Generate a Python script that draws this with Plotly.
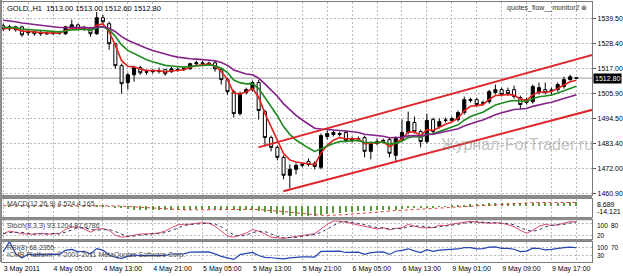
import plotly.graph_objects as go

# ---------------- data ----------------
bar_open = [1536.4,1535.0,1535.9,1535.9,1533.2,1533.7,1532.8,1533.2,1532.8,1533.2,
            1532.8,1535.5,1536.8,1535.0,1535.5,1532.8,1540.0,1537.3,1528.3,1518.4,
            1510.8,1514.3,1517.5,1515.7,1515.7,1516.1,1516.6,1515.7,1516.6,1516.6,
            1517.0,1519.3,1519.7,1519.3,1519.7,1516.6,1512.1,1506.7,1496.8,1506.3,
            1507.6,1510.8,1497.7,1486.0,1481.6,1477.1,1469.0,1471.7,1473.5,1475.3,
            1474.4,1472.6,1486.5,1487.4,1487.4,1488.3,1484.7,1485.6,1486.0,1479.8,
            1483.4,1484.2,1485.1,1478.0,1485.1,1488.3,1492.8,1488.7,1484.2,1494.1,
            1491.0,1493.7,1493.7,1494.1,1497.3,1502.7,1503.1,1501.8,1502.2,1506.3,
            1507.6,1507.2,1507.6,1504.0,1503.1,1502.2,1506.3,1507.6,1507.2,1507.6,
            1509.0,1512.1,1513.0]
bar_high = [1537.3,1536.8,1536.4,1536.4,1534.6,1534.1,1534.1,1533.7,1533.7,1534.1,
            1536.4,1539.1,1537.3,1536.4,1535.9,1542.6,1541.3,1538.2,1528.7,1519.3,
            1515.2,1518.4,1518.4,1516.6,1517.0,1517.5,1517.0,1517.9,1517.5,1517.9,
            1519.7,1520.6,1520.6,1520.2,1520.6,1517.5,1513.0,1507.6,1506.7,1508.5,
            1511.7,1512.1,1498.6,1486.9,1482.5,1478.0,1473.9,1474.4,1474.8,1476.6,
            1475.3,1487.8,1489.2,1489.2,1488.7,1489.2,1486.5,1486.5,1486.9,1484.2,
            1485.6,1485.6,1486.0,1486.5,1494.1,1497.7,1495.5,1489.6,1496.8,1495.0,
            1494.6,1495.0,1495.5,1498.2,1504.5,1504.0,1504.0,1502.7,1507.6,1509.9,
            1508.5,1508.5,1509.4,1504.9,1504.0,1509.9,1510.8,1510.8,1508.5,1510.8,
            1513.4,1514.3,1513.0]
bar_low = [1534.1,1534.1,1533.7,1531.4,1531.9,1531.9,1531.9,1532.3,1532.3,1532.3,
           1532.3,1535.0,1534.6,1534.1,1531.4,1532.3,1537.3,1525.6,1517.0,1505.8,
           1507.6,1511.2,1514.3,1514.3,1514.8,1514.8,1513.9,1515.2,1515.7,1516.1,
           1516.6,1518.4,1518.4,1518.4,1515.7,1509.9,1505.4,1495.0,1495.9,1505.4,
           1506.7,1494.1,1482.0,1479.8,1475.7,1467.2,1463.1,1469.4,1472.6,1473.0,
           1471.7,1471.7,1485.1,1486.5,1486.5,1483.8,1483.8,1484.2,1477.1,1476.2,
           1482.5,1483.4,1477.1,1475.3,1484.2,1487.4,1487.8,1481.6,1483.3,1487.4,
           1490.1,1492.8,1493.2,1493.2,1496.4,1501.8,1500.0,1500.4,1501.3,1505.4,
           1504.5,1504.9,1503.6,1498.6,1500.9,1501.3,1505.4,1505.4,1504.9,1506.7,
           1508.1,1511.7,1512.6]
bar_close = [1535.0,1535.9,1534.6,1532.3,1533.7,1532.8,1533.2,1532.8,1533.2,1533.0,
             1535.9,1536.8,1535.0,1535.5,1532.8,1540.0,1538.2,1528.3,1518.4,1510.3,
             1514.3,1517.5,1515.2,1515.5,1516.1,1515.9,1514.8,1517.0,1516.4,1517.0,
             1519.3,1519.7,1519.3,1519.5,1517.0,1512.1,1506.7,1496.8,1505.4,1507.6,
             1510.8,1498.2,1486.0,1481.6,1477.1,1469.0,1471.7,1473.5,1473.9,1473.9,
             1473.0,1486.9,1487.8,1488.3,1487.8,1484.7,1485.6,1485.4,1479.8,1483.4,
             1484.2,1484.7,1478.9,1485.6,1488.3,1493.2,1488.7,1484.2,1493.7,1488.7,
             1493.2,1493.9,1494.6,1497.3,1503.1,1503.1,1500.9,1501.5,1506.7,1507.6,
             1505.4,1505.8,1504.5,1500.9,1501.8,1509.0,1508.5,1506.3,1507.4,1509.9,
             1512.1,1513.4,1512.8]

label_bars = [0, 8, 16, 24, 32, 40, 48, 56, 64, 72, 80, 88]
label_text = ["3 May 2011", "4 May 05:00", "4 May 13:00", "4 May 21:00",
              "5 May 05:00", "5 May 13:00", "5 May 21:00", "6 May 05:00",
              "6 May 13:00", "9 May 01:00", "9 May 09:00", "9 May 17:00"]

price_ticks = [1460.90, 1472.00, 1483.40, 1494.50, 1505.90, 1517.00, 1528.40, 1539.50]

ma_periods = [4, 10, 20]
ma_start = [1535.0, 1535.9, 1539.3]
ma_colors = ["#e3201b", "#1f8a1f", "#84218a"]

chan_up_x = [40.96, 96.0]
chan_up_y = [1481.6, 1524.4]
chan_lo_x = [44.96, 96.0]
chan_lo_y = [1461.8, 1499.6]

macd_range = [-14.121, 8.689]

# indicator readouts printed on the chart
header_text = "GOLD.,H1  1513.00 1513.00 1512.60 1512.80"
macd_text = "MACD(12,26,9) 4.524 4.165"
stoch_text = "Stoch(8,3,3) 93.1204 87.6786"
rsi_text = "RSI(8) 68.2355"
platform_text = "ICMB Platform, \u00a9 2001-2011 MetaQuotes Software Corp."
window_text = "quotes_flow__monitor2 \u2297"
watermark = "Журнал-ForTrader.ru"

# ---------------- indicator computation ----------------
idx = list(range(len(bar_close)))


def ema(vals, period, start):
    a = 2.0 / (period + 1)
    out, e = [], start
    for v in vals:
        e = e + a * (v - e)
        out.append(e)
    return out


def sma(vals, n):
    out = []
    for i in range(len(vals)):
        w = vals[max(0, i - n + 1):i + 1]
        out.append(sum(w) / len(w))
    return out


mas = [ema(bar_close, p, s) for p, s in zip(ma_periods, ma_start)]

e12 = ema(bar_close, 12, bar_close[0])
e26 = ema(bar_close, 26, bar_close[0])
macd = [a - b for a, b in zip(e12, e26)]
macd_sig = sma(macd, 9)

num, den = [], []
for i in range(len(bar_close)):
    ll = min(bar_low[max(0, i - 7):i + 1])
    hh = max(bar_high[max(0, i - 7):i + 1])
    num.append(bar_close[i] - ll)
    den.append(hh - ll)
stoch_k = []
for i in range(len(bar_close)):
    n = sum(num[max(0, i - 2):i + 1])
    d = sum(den[max(0, i - 2):i + 1])
    stoch_k.append(100 * n / d if d else 50)
stoch_d = sma(stoch_k, 3)

rsi = [50.0]
ag = al = None
gains, losses = [], []
for i in range(1, len(bar_close)):
    ch = bar_close[i] - bar_close[i - 1]
    g, l = max(ch, 0), max(-ch, 0)
    if i <= 8:
        gains.append(g); losses.append(l)
        ag = sum(gains) / len(gains); al = sum(losses) / len(losses)
    else:
        ag = (ag * 7 + g) / 8; al = (al * 7 + l) / 8
    rsi.append(100.0 if al == 0 else 100 - 100 / (1 + ag / al))

# ---------------- figure ----------------
W, H = 623, 276
FONT = "Liberation Sans, Arial, sans-serif"


def py(p):  # pixel row -> paper y
    return (H - p) / H


def px(p):
    return p / W


xdom = [px(2), px(594)]
xr = [-0.2, 94.52]
dom_main = [py(196), py(2)]
dom_macd = [py(218), py(199.5)]
dom_sto = [py(240), py(221)]
dom_rsi = [py(263), py(242.5)]

fig = go.Figure()
fig.add_trace(go.Candlestick(
    x=idx, open=bar_open, high=bar_high, low=bar_low, close=bar_close,
    increasing=dict(line=dict(color="black", width=1), fillcolor="black"),
    decreasing=dict(line=dict(color="black", width=1), fillcolor="white"),
    whiskerwidth=0, showlegend=False, hoverinfo="skip", xaxis="x", yaxis="y"))
for m, c in zip(mas, ma_colors):
    fig.add_trace(go.Scatter(x=idx, y=m, mode="lines", line=dict(color=c, width=1.6),
                             showlegend=False, hoverinfo="skip", xaxis="x", yaxis="y"))
for cx, cy in ((chan_up_x, chan_up_y), (chan_lo_x, chan_lo_y)):
    fig.add_trace(go.Scatter(x=cx, y=cy, mode="lines", line=dict(color="#e0262a", width=2),
                             showlegend=False, hoverinfo="skip", xaxis="x", yaxis="y"))

fig.add_trace(go.Bar(x=idx, y=macd, width=0.2, marker=dict(color="#5e9a3c", line=dict(width=0)),
                     showlegend=False, hoverinfo="skip", xaxis="x2", yaxis="y2"))
fig.add_trace(go.Scatter(x=idx, y=macd_sig, mode="lines", line=dict(color="#d8403a", width=1, dash="dot"),
                         showlegend=False, hoverinfo="skip", xaxis="x2", yaxis="y2"))

fig.add_trace(go.Scatter(x=idx, y=stoch_k, mode="lines", line=dict(color="#d9486a", width=1),
                         showlegend=False, hoverinfo="skip", xaxis="x3", yaxis="y3"))
fig.add_trace(go.Scatter(x=idx, y=stoch_d, mode="lines", line=dict(color="#3a3a6a", width=1, dash="dot"),
                         showlegend=False, hoverinfo="skip", xaxis="x3", yaxis="y3"))

fig.add_trace(go.Scatter(x=idx, y=rsi, mode="lines", line=dict(color="#2544b0", width=1.2),
                         showlegend=False, hoverinfo="skip", xaxis="x4", yaxis="y4"))

grid_vals = list(range(0, 96, 4))
grid_txt = [label_text[label_bars.index(v)] if v in label_bars else "" for v in grid_vals]
GRID = "#b9b9b9"
FRAME = "#7a7a7a"

xcommon = dict(domain=xdom, range=xr, tickvals=grid_vals, showgrid=True, gridcolor=GRID,
               griddash="2px,2px", gridwidth=1, zeroline=False, showline=True, mirror=True,
               linecolor=FRAME, linewidth=1, ticks="", fixedrange=True)
ycommon = dict(zeroline=False, showline=True, mirror=True, linecolor=FRAME, linewidth=1,
               side="right", fixedrange=True)

fig.update_layout(
    width=W, height=H, margin=dict(l=0, r=0, t=0, b=0), autosize=False,
    paper_bgcolor="white", plot_bgcolor="white", showlegend=False,
    font=dict(family=FONT, size=7, color="black"), bargap=0,
    xaxis=dict(**xcommon, anchor="y", showticklabels=False, rangeslider=dict(visible=False)),
    xaxis2=dict(**xcommon, anchor="y2", matches="x", showticklabels=False),
    xaxis3=dict(**xcommon, anchor="y3", matches="x", showticklabels=False),
    xaxis4=dict(**xcommon, anchor="y4", matches="x", showticklabels=True, ticktext=grid_txt,
                ticklabelposition="outside right", tickfont=dict(size=7, family=FONT)),
    yaxis=dict(**ycommon, domain=dom_main, range=[1460.0, 1547.1], tickvals=price_ticks,
               ticktext=["%.2f" % v for v in price_ticks], showgrid=True, gridcolor=GRID,
               griddash="2px,2px", ticks="outside", ticklen=3, tickcolor="#555",
               tickfont=dict(size=7, family=FONT)),
    yaxis2=dict(**ycommon, domain=dom_macd, range=macd_range, showticklabels=False, showgrid=False),
    yaxis3=dict(**ycommon, domain=dom_sto, range=[0, 100], tickvals=[20, 80], showticklabels=False,
                showgrid=True, gridcolor=GRID, griddash="2px,2px"),
    yaxis4=dict(**ycommon, domain=dom_rsi, range=[0, 100], tickvals=[30, 70], showticklabels=False,
                showgrid=True, gridcolor=GRID, griddash="2px,2px"),
)

# separators between windows and left frame
shapes = []
for top, bot in ((196, 199.5), (218, 221), (240, 242.5)):
    shapes.append(dict(type="rect", xref="paper", yref="paper", x0=0, x1=px(594),
                       y0=py(bot), y1=py(top), fillcolor="#8c8c8c", line=dict(width=0), layer="above"))
shapes.append(dict(type="rect", xref="paper", yref="paper", x0=0, x1=px(2), y0=py(263), y1=1,
                   fillcolor="#8c8c8c", line=dict(width=0), layer="above"))
# bid line at the last close
shapes.append(dict(type="line", xref="paper", yref="y", x0=xdom[0], x1=xdom[1],
                   y0=bar_close[-1], y1=bar_close[-1], line=dict(color="#9a9a9a", width=1), layer="below"))
fig.update_layout(shapes=shapes)

ann = []


def text(x, y, s, size=7, color="black", xanchor="left", yanchor="middle", yref="paper", **kw):
    ann.append(dict(x=x, y=y, xref="paper", yref=yref, text=s, showarrow=False, xanchor=xanchor,
                    yanchor=yanchor, font=dict(size=size, color=color, family=FONT), **kw))


text(px(5), py(8.5), header_text, size=7.5)
text(px(591), py(8.5), window_text, size=7, color="#333", xanchor="right")
text(px(440), py(145), watermark, size=16, color="rgba(140,140,140,0.55)")
text(px(595), bar_close[-1], "%.2f" % bar_close[-1], size=7, color="white", yref="y",
     bgcolor="black", borderpad=1)

text(px(5), py(204.5), macd_text, color="#444")
text(px(5), py(226.5), stoch_text, color="#444")
text(px(5), py(248.5), rsi_text, color="#444")
text(px(5), py(256), platform_text, color="#444")

# sub-window scale labels (levels that share the top row sit side by side)
text(px(597), macd_range[1], "%.3f" % macd_range[1], yref="y2", yanchor="top")
text(px(597), macd_range[0], "%.3f" % macd_range[0], yref="y2", yanchor="bottom")
text(px(597), 100, "100", yref="y3", yanchor="top", size=6.5)
text(px(611), 100, "80", yref="y3", yanchor="top", size=6.5)
text(px(597), 20, "20", yref="y3", size=6.5)
text(px(597), 100, "100", yref="y4", yanchor="top", size=6.5)
text(px(611), 100, "70", yref="y4", yanchor="top", size=6.5)
text(px(597), 30, "30", yref="y4", size=6.5)
fig.update_layout(annotations=ann)

fig.write_html("out.html")
